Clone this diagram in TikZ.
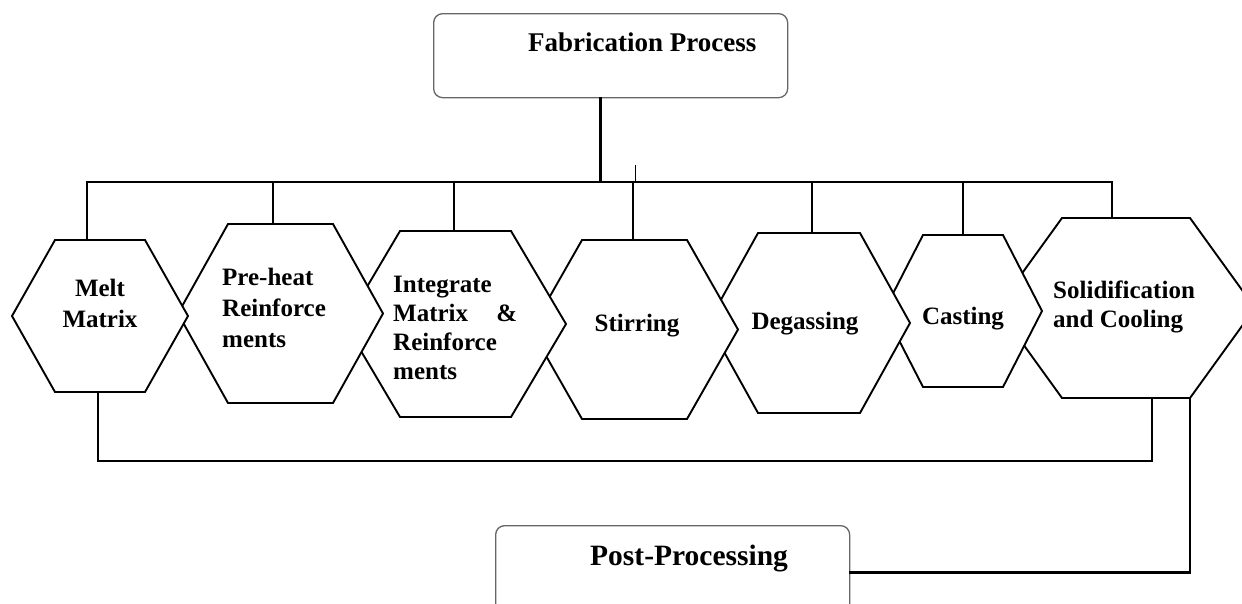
\documentclass[tikz,border=0pt]{standalone}
\usepackage{fontspec}
\setmainfont{Liberation Serif}
\usetikzlibrary{calc}
\tikzset{
  conn/.style={line width=2.4pt, black, line cap=rect},
  thinconn/.style={line width=1pt, black},
  hexline/.style={line width=1.9pt, black, fill=white, line join=miter},
  hexarea/.style={inner sep=0pt, draw=none},
  boxline/.style={draw=black!60, line width=1.3pt, rounded corners=9pt, fill=white, inner sep=0pt},
  lbl/.style={font=\fontsize{25}{31}\selectfont\bfseries, inner sep=0pt},
  lblb/.style={font=\fontsize{25}{29}\selectfont\bfseries, inner sep=0pt},
}
\newcommand\hexa[6]{%
  \node[hexarea, minimum width={2*#4pt}, minimum height={2*#6pt}] (#1) at (#2,#3) {};
  \draw[hexline] ($(#1)+(-#4,0)$) -- ($(#1)+(-#5,-#6)$) -- ($(#1)+(#5,-#6)$)
    -- ($(#1)+(#4,0)$) -- ($(#1)+(#5,#6)$) -- ($(#1)+(-#5,#6)$) -- cycle;
}
\begin{document}
\begin{tikzpicture}[x=1pt,y=-1pt]
\useasboundingbox (0,0) rectangle (1242,603);
\clip (0,0) rectangle (1242,603);
% boxes
\node[boxline, minimum width=354pt, minimum height=84pt, anchor=north west] (fab) at (433,13) {};
\node[font=\fontsize{27}{32}\selectfont\bfseries, inner sep=0pt, anchor=base west] (fabtxt) at (528,51) {Fabrication Process};
\node[boxline, minimum width=354pt, minimum height=100pt, anchor=north west] (post) at (495,525) {};
\node[font=\fontsize{29.5}{34}\selectfont\bfseries, inner sep=0pt, anchor=base west] (posttxt) at (590,565) {Post-Processing};
% hexagons, right to left so that the left ones lie on top
\hexa{solid}{1126}{308}{129}{64}{90}
\hexa{cast}{963}{311}{79}{40}{76}
\hexa{degas}{809}{323}{101}{51}{90}
\hexa{stir}{634.5}{329.5}{103.5}{52.5}{89.5}
\hexa{integ}{455.5}{324}{110.5}{55.5}{93}
\hexa{pre}{280.5}{313.5}{102.5}{52.5}{89.5}
\hexa{melt}{100}{316}{88}{45}{76}
% labels (anchor base = baseline of the last line for multi-line labels)
\node[lbl, align=center, anchor=base] (melttxt) at (100,327) {Melt\\Matrix};
\node[lbl, align=left, anchor=base west] (pretxt) at (222,347) {Pre-heat\\Reinforce\\ments};
\node[lblb, align=left, text width=124pt, anchor=base west] (integtxt) at (393,292) {Integrate\\Matrix\hfill\&\\Reinforce\\ments};
\node[lbl, anchor=base] (stirtxt) at (637,331) {Stirring};
\node[lbl, anchor=base] (degastxt) at (805,329) {Degassing};
\node[lbl, anchor=base] (casttxt) at (963,324) {Casting};
\node[lblb, align=left, anchor=base west] (solidtxt) at (1053,327) {Solidification\\and Cooling};
% top bus
\coordinate (busL) at (87,182);
\coordinate (busR) at (1112,182);
\coordinate (tick) at (635,165);
\draw[conn] ([xshift=-10pt]fab.south) -- ([xshift=-10pt]fab.south |- busL);
\draw[conn] (busL) -- (busR);
\draw[thinconn] (tick) -- (tick |- busL);
\draw[conn] (busL) -- (busL |- melt.north);
\draw[conn] ([xshift=-7.5pt]pre.north) -- ([xshift=-7.5pt]pre.north |- busL);
\draw[conn] ([xshift=-1.5pt]integ.north) -- ([xshift=-1.5pt]integ.north |- busL);
\draw[conn] ([xshift=-1.5pt]stir.north) -- ([xshift=-1.5pt]stir.north |- busL);
\draw[conn] ([xshift=3pt]degas.north) -- ([xshift=3pt]degas.north |- busL);
\draw[conn] (cast.north) -- (cast.north |- busL);
\draw[conn] (busR) -- (busR |- solid.north);
% bottom bus
\coordinate (bbL) at (98,461);
\coordinate (bbR) at (1152,461);
\coordinate (sbr) at ($(solid)+(64,90)$);
\draw[conn] (bbL |- melt.south) -- (bbL) -- (bbR) -- (bbR |- solid.south);
\draw[conn] ([yshift=3pt]post.east) -| (sbr);
\end{tikzpicture}
\end{document}
